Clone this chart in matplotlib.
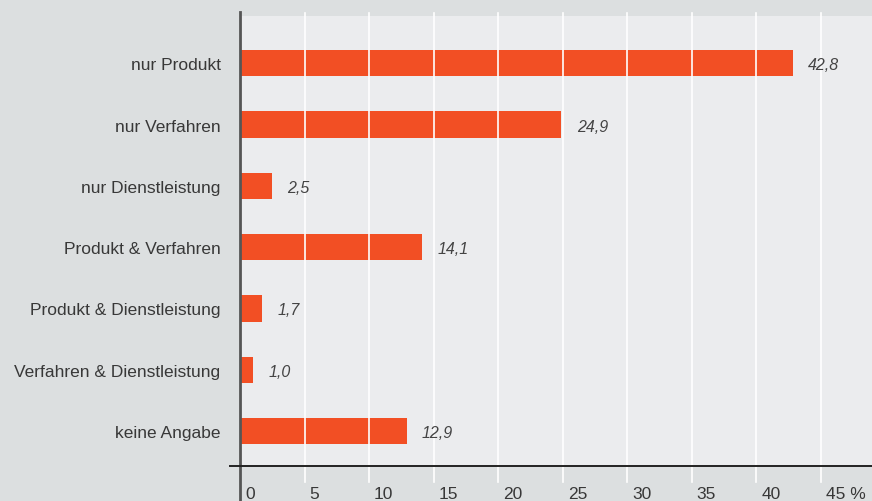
import matplotlib
matplotlib.use("Agg")
import matplotlib.pyplot as plt
from matplotlib.transforms import offset_copy

# Innovationsart der Unternehmen (Anteile in %)
categories = [
    "nur Produkt",
    "nur Verfahren",
    "nur Dienstleistung",
    "Produkt & Verfahren",
    "Produkt & Dienstleistung",
    "Verfahren & Dienstleistung",
    "keine Angabe",
]
values = [42.8, 24.9, 2.5, 14.1, 1.7, 1.0, 12.9]
value_labels = ["42,8", "24,9", "2,5", "14,1", "1,7", "1,0", "12,9"]
x_ticks = [0, 5, 10, 15, 20, 25, 30, 35, 40, 45]
x_tick_labels = ["0", "5", "10", "15", "20", "25", "30", "35", "40", "45 %"]

OUTER_BG = "#dcdfe0"
INNER_BG = "#ebecee"
BAR_COLOR = "#f24f24"
TEXT_COLOR = "#383838"

plt.rcParams["font.family"] = ["Liberation Sans", "DejaVu Sans"]

W, H = 872, 502
fig = plt.figure(figsize=(W / 100, H / 100), dpi=100, facecolor=OUTER_BG)
ax = fig.add_axes([240 / W, 35 / H, (W - 240) / W, (467 - 17) / H])
ax.set_facecolor(INNER_BG)

ypos = list(range(len(categories)))
ax.barh(ypos, values, height=0.43, color=BAR_COLOR, zorder=2)

ax.set_xlim(0, (W - 240) / 12.91)
ax.set_ylim(6.57, -0.77)

for s in ax.spines.values():
    s.set_visible(False)

# weisse Gitterlinien, ueber die Balken gezeichnet und leicht ueber den Rahmen hinaus
xt = ax.get_xaxis_transform()
for x in x_ticks[1:]:
    ax.plot([x, x], [-0.036, 1.007], transform=xt, color="white", lw=1.2,
            zorder=3, clip_on=False)

# y-Achse (links) und x-Achse (unten)
ax.plot([0, 0], [-0.08, 1.009], transform=xt, color="#555555", lw=2,
        zorder=4, clip_on=False)
ax.plot([-10 / 632, 1], [0, 0], transform=ax.transAxes, color="#222222",
        lw=1.4, zorder=4, clip_on=False)

ax.set_yticks(ypos)
ax.set_yticklabels(categories, fontsize=12.5, color=TEXT_COLOR)
for t in ax.get_yticklabels():
    t.set_verticalalignment("center_baseline")
ax.tick_params(axis="y", length=0, pad=14)

ax.set_xticks([])
for x, lab in zip(x_ticks, x_tick_labels):
    tr = offset_copy(xt, fig=fig, x=5, y=0, units="dots")
    ax.text(x, -28 / 450, lab, transform=tr, ha="left", va="center",
            fontsize=12.5, color=TEXT_COLOR, clip_on=False)

# Werte hinter den Balken
for y, v, lab in zip(ypos, values, value_labels):
    ax.annotate(lab, (v, y), xytext=(11, 0), textcoords="offset points",
                ha="left", va="center_baseline", fontsize=11.5, style="italic",
                color="#444444", zorder=5)

fig.savefig("out.png", dpi=100, facecolor=OUTER_BG)
